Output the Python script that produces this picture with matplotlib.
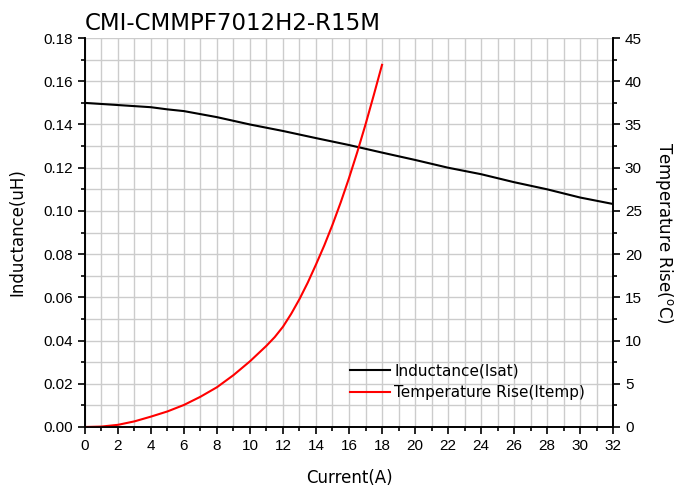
import matplotlib
matplotlib.use('Agg')
import matplotlib.pyplot as plt
from matplotlib.ticker import MultipleLocator

# Inductance vs current
i_ind = [0, 2, 4, 5, 6, 8, 10, 12, 14, 16, 18, 20, 22, 24, 26, 28, 30, 32]
ind = [0.150, 0.149, 0.148, 0.147, 0.1462, 0.1434, 0.140, 0.137, 0.1337, 0.1305,
       0.127, 0.1236, 0.120, 0.117, 0.1133, 0.110, 0.1062, 0.1032]

# Temperature rise vs current
i_temp = [0, 1, 2, 3, 4, 5, 6, 7, 8, 9, 10, 11, 11.5, 12, 12.5, 13, 13.5,
          14, 14.5, 15, 15.5, 16, 16.5, 17, 17.5, 18]
temp = [0, 0.05, 0.25, 0.65, 1.2, 1.8, 2.55, 3.5, 4.6, 6.0, 7.6, 9.4, 10.4,
        11.6, 13.1, 14.8, 16.7, 18.8, 21.0, 23.4, 26.0, 28.8, 31.8, 35.0,
        38.4, 41.9]

fig = plt.figure(figsize=(6.79, 4.88), dpi=100)
ax = fig.add_axes([0.125, 0.125, 0.778, 0.797])
ax2 = ax.twinx()

l1, = ax.plot(i_ind, ind, color='black', lw=1.5, label='Inductance(Isat)')
l2, = ax2.plot(i_temp, temp, color='red', lw=1.5, label='Temperature Rise(Itemp)')

ax.set_xlim(0, 32)
ax.set_ylim(0, 0.18)
ax2.set_ylim(0, 45)

ax.xaxis.set_major_locator(MultipleLocator(2))
ax.xaxis.set_minor_locator(MultipleLocator(1))
ax.yaxis.set_major_locator(MultipleLocator(0.02))
ax.yaxis.set_minor_locator(MultipleLocator(0.01))
ax2.yaxis.set_major_locator(MultipleLocator(5))
ax2.yaxis.set_minor_locator(MultipleLocator(2.5))
ax.yaxis.set_major_formatter(plt.FormatStrFormatter('%.2f'))

ax.grid(True, which='both', color='#cccccc', lw=1)
ax.set_axisbelow(True)

for a in (ax, ax2):
    a.spines['top'].set_visible(False)
    a.tick_params(which='major', length=5, width=1.2, labelsize=11)
    a.tick_params(which='minor', length=3, width=1.2)
    for s in a.spines.values():
        s.set_linewidth(1.2)
    for t in a.get_xticklabels() + a.get_yticklabels():
        t.set_family('Liberation Sans')

ax.set_xlabel('Current(A)', fontsize=12, labelpad=12)
ax.set_ylabel('Inductance(uH)', fontsize=12, labelpad=12)
ax2.set_ylabel('Temperature Rise($^{\\mathrm{o}}$C)', fontsize=12, rotation=270, labelpad=24)
ax.set_title('CMI-CMMPF7012H2-R15M', loc='left', fontsize=16.5, pad=6)

ax2.legend(handles=[l1, l2], loc='upper left', bbox_to_anchor=(0.49, 0.18),
           frameon=False, fontsize=11, handlelength=2.6, handletextpad=0.3,
           labelspacing=0.45, borderaxespad=0)

fig.savefig('out.png', dpi=100)
